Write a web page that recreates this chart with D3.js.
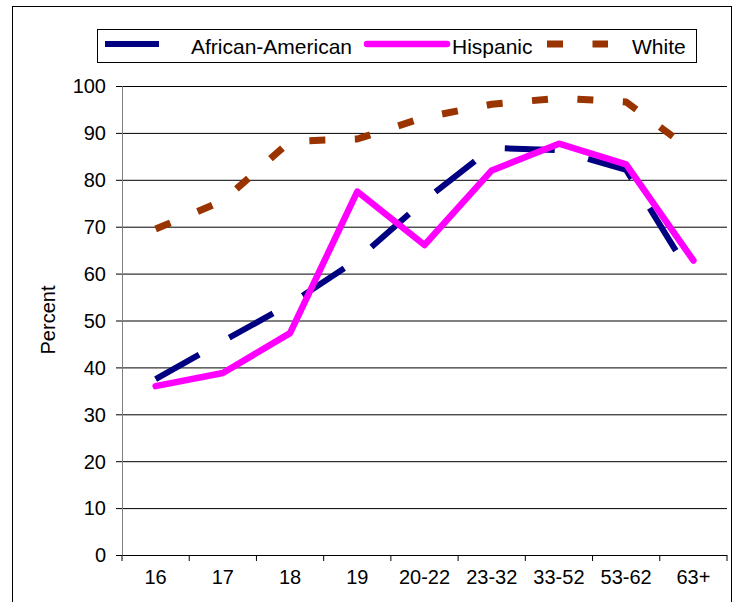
<!DOCTYPE html>
<html>
<head>
    <meta charset="utf-8">
    <title>Percent by age group</title>
    <script src="https://d3js.org/d3.v7.min.js"></script>
    <style>
        body { margin: 0; background: #fff; }
        text { font-family: "Liberation Sans", Arial, sans-serif; fill: #000; }
        .grid line { stroke: #000; stroke-width: 1; }
        .grid path { display: none; }
    </style>
</head>
<body>
    <svg width="737" height="602"></svg>

    <script>
    // data
    const ageGroups = ["16", "17", "18", "19", "20-22", "23-32", "33-52", "53-62", "63+"];
    const africanAmerican = [37.5, 45.6, 53.5, 63.0, 75.6, 86.8, 86.3, 82.1, 58.8];
    const hispanic = [36.0, 38.8, 47.3, 77.5, 66.1, 82.0, 87.7, 83.3, 62.8];
    const white = [69.5, 75.5, 88.2, 88.7, 93.3, 96.1, 97.4, 96.6, 86.0];
    const yTicks = [0, 10, 20, 30, 40, 50, 60, 70, 80, 90, 100];

    const series = [
        { name: "African-American", values: africanAmerican, color: "#000080", width: 6, dash: "50,34.5", cap: "butt" },
        { name: "Hispanic", values: hispanic, color: "#FF00FF", width: 6.5, dash: null, cap: "round" },
        { name: "White", values: white, color: "#993300", width: 7, dash: "16,29.5", cap: "butt" }
    ];

    const svg = d3.select("svg");
    const plotLeft = 122, plotRight = 727, plotTop = 86, plotBottom = 555;

    // outer frame (bottom edge runs off the picture)
    svg.append("rect")
        .attr("x", 12.5).attr("y", 6.5)
        .attr("width", 719).attr("height", 620)
        .attr("fill", "none").attr("stroke", "#000");

    const x = d3.scaleBand().domain(ageGroups).range([plotLeft, plotRight]).padding(0);
    const y = d3.scaleLinear().domain([0, 100]).range([plotBottom, plotTop]);

    // gridlines
    svg.append("g")
        .attr("class", "grid")
        .attr("transform", `translate(${plotLeft},0)`)
        .call(d3.axisLeft(y).tickValues(yTicks).tickSize(-(plotRight - plotLeft)).tickFormat(""));

    // y axis
    const yAxis = svg.append("g")
        .attr("transform", `translate(${plotLeft},0)`)
        .call(d3.axisLeft(y).tickValues(yTicks).tickSize(6).tickPadding(10));
    yAxis.select(".domain").attr("stroke", "#808080");
    yAxis.selectAll(".tick line").attr("stroke", "#000");
    yAxis.selectAll(".tick text")
        .style("font-size", "20px")
        .attr("dy", "0.34em");

    // x axis: ticks sit between the categories
    const xAxis = svg.append("g")
        .attr("transform", `translate(0,${plotBottom})`)
        .call(d3.axisBottom(x).tickSize(0).tickPadding(0));
    xAxis.select(".domain").remove();
    xAxis.selectAll(".tick text")
        .style("font-size", "20px")
        .attr("y", 29)
        .attr("dy", 0);

    const bounds = ageGroups.map(d => x(d)).concat([plotRight]);
    svg.append("g").selectAll("line")
        .data(bounds)
        .enter().append("line")
        .attr("x1", d => d).attr("x2", d => d)
        .attr("y1", plotBottom).attr("y2", plotBottom + 6)
        .attr("stroke", "#000");

    // y axis title
    svg.append("text")
        .attr("transform", "translate(55,320) rotate(-90)")
        .attr("text-anchor", "middle")
        .style("font-size", "20px")
        .text("Percent");

    // lines
    const line = d3.line()
        .x((d, i) => x(ageGroups[i]) + x.bandwidth() / 2)
        .y(d => y(d));

    svg.append("g").selectAll("path")
        .data(series)
        .enter().append("path")
        .attr("d", d => line(d.values))
        .attr("fill", "none")
        .attr("stroke", d => d.color)
        .attr("stroke-width", d => d.width)
        .attr("stroke-dasharray", d => d.dash)
        .attr("stroke-linecap", d => d.cap)
        .attr("stroke-linejoin", "round");

    // legend
    const legend = svg.append("g");
    legend.append("rect")
        .attr("x", 97.5).attr("y", 29.5)
        .attr("width", 599).attr("height", 33)
        .attr("fill", "#fff").attr("stroke", "#000");

    const legendItems = [
        { s: series[0], x1: 105, x2: 159, tx: 191, dash: null },
        { s: series[1], x1: 367, x2: 447, tx: 452, dash: null },
        { s: series[2], x1: 547, x2: 608, tx: 632, dash: "16,29.5" }
    ];
    legendItems.forEach(d => {
        legend.append("line")
            .attr("x1", d.x1).attr("x2", d.x2)
            .attr("y1", 44).attr("y2", 44)
            .attr("stroke", d.s.color)
            .attr("stroke-width", d.s.width)
            .attr("stroke-linecap", d.s.cap)
            .attr("stroke-dasharray", d.dash);
        legend.append("text")
            .attr("x", d.tx).attr("y", 54)
            .style("font-size", "21px")
            .text(d.s.name);
    });
    </script>
</body>
</html>
